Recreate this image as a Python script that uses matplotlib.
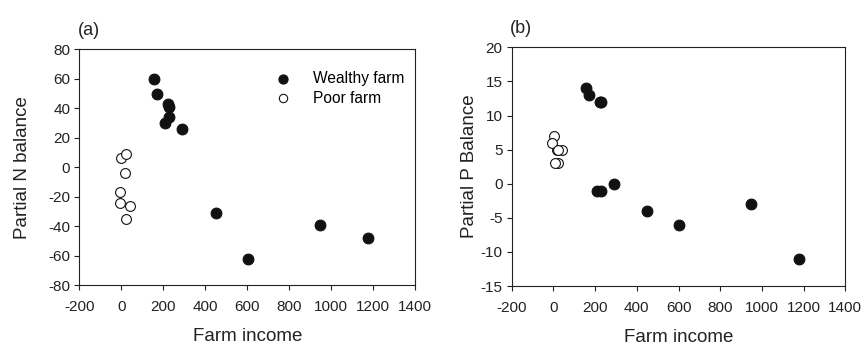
import matplotlib
matplotlib.use("Agg")
import matplotlib.pyplot as plt

plt.rcParams['font.family'] = ['Liberation Sans', 'DejaVu Sans']
plt.rcParams['axes.unicode_minus'] = False

# Wealthy farms
wealthy_income = [157, 171, 224, 226, 229, 210, 290, 451, 602, 946, 1176]
wealthy_N = [60, 50, 43, 41, 34, 30, 26, -31, -62, -39, -48]
wealthy_P = [14, 13, 12, 12, -1, -1, 0, -4, -6, -3, -11]

# Poor farms
poor_income = [0, 22, 16, -6, -6, 40, 21]
poor_N = [6, 9, -4, -17, -24, -26, -35]
poor_income_b = [3, 22, 16, -8, 9, 40, 20]
poor_P = [7, 3, 5, 6, 3, 5, 5]

xticks = [-200, 0, 200, 400, 600, 800, 1000, 1200, 1400]
yticks_a = [-80, -60, -40, -20, 0, 20, 40, 60, 80]
yticks_b = [-15, -10, -5, 0, 5, 10, 15, 20]

fig = plt.figure(figsize=(8.63, 3.48), dpi=100)
W, H = 863, 348
ax1 = fig.add_axes([79.3 / W, 1 - 285.3 / H, (415.3 - 79.3) / W, (285.3 - 49.3) / H])
ax2 = fig.add_axes([511.7 / W, 1 - 286 / H, (845.3 - 511.7) / W, (286 - 47.3) / H])

def style(ax, yticks, ylabel, tag, ypad):
    ax.set_xlim(-200, 1400)
    ax.set_xticks(xticks)
    ax.set_ylim(yticks[0], yticks[-1])
    ax.set_yticks(yticks)
    ax.tick_params(direction='out', length=3.6, width=0.8, labelsize=11,
                   top=False, right=False, pad=3, color='#222222',
                   labelcolor='#222222')
    ax.tick_params(axis='x', pad=7)
    for s in ax.spines.values():
        s.set_linewidth(0.8)
        s.set_color('#222222')
    ax.set_xlabel('Farm income', fontsize=13.5, labelpad=10, color='#222222')
    ax.set_ylabel(ylabel, fontsize=13.5, color='#222222', labelpad=ypad)
    ax.text(-0.005, 1.045, tag, transform=ax.transAxes, fontsize=13,
            ha='left', va='bottom', color='#222222')

ax1.scatter(wealthy_income, wealthy_N, s=60, c='#111111', edgecolors='#111111',
            linewidths=0.8, label='Wealthy farm', zorder=3)
ax1.scatter(poor_income, poor_N, s=50, facecolors='white', edgecolors='#111111',
            linewidths=0.8, label='Poor farm', zorder=3)
style(ax1, yticks_a, 'Partial N balance', '(a)', 12)
ax1.legend(loc='upper right', frameon=False, fontsize=11.2, handletextpad=0.9,
           borderaxespad=0.0, labelspacing=0.3, markerscale=0.85,
           bbox_to_anchor=(0.985, 0.935))

ax2.scatter(wealthy_income, wealthy_P, s=60, c='#111111', edgecolors='#111111',
            linewidths=0.8, zorder=3)
ax2.scatter(poor_income_b, poor_P, s=50, facecolors='white', edgecolors='#111111',
            linewidths=0.8, zorder=3)
style(ax2, yticks_b, 'Partial P Balance', '(b)', 1.5)

fig.savefig('out.png', dpi=100)
